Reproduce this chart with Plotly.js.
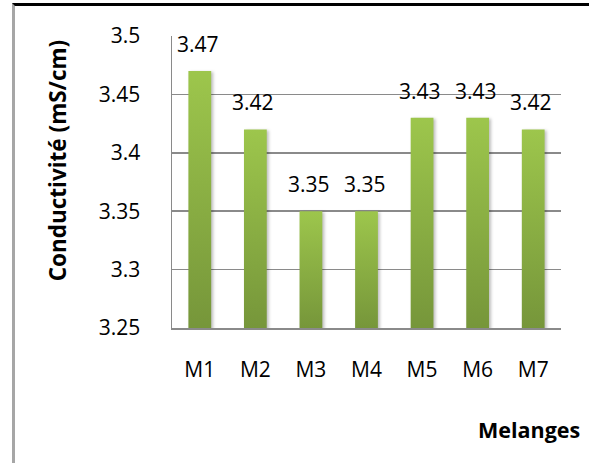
<!DOCTYPE html>
<html>
<head>
<meta charset="utf-8">
<script src="https://cdn.plot.ly/plotly-3.0.1.min.js"></script>
<style>
  html, body { margin: 0; padding: 0; background: #fff; }
  #wrap { position: relative; width: 589px; height: 463px; overflow: hidden; }
  #chart { position: absolute; left: 0; top: 0; width: 589px; height: 463px; }
  #frame { position: absolute; left: 12px; top: 3px; right: 0; bottom: 0;
           border-top: 3px solid #000; border-left: 3px solid #a6a6a6; pointer-events: none; }
</style>
</head>
<body>
<div id="wrap">
  <div id="chart"></div>
  <div id="frame"></div>
</div>
<script>
const categories = ["M1", "M2", "M3", "M4", "M5", "M6", "M7"];
const conductivity = [3.47, 3.42, 3.35, 3.35, 3.43, 3.43, 3.42];
const yTickValues = [3.25, 3.3, 3.35, 3.4, 3.45, 3.5];
const yTickLabels = ["3.25", "3.3", "3.35", "3.4", "3.45", "3.5"];
const yTitle = "Conductivité (mS/cm)";
const xTitle = "Melanges";

const FONT = "Open Sans, sans-serif";

const trace = {
  type: "bar",
  x: categories,
  y: conductivity,
  marker: { color: "#8cb443", line: { width: 0 } },
  hoverinfo: "skip"
};

const labelAnnotations = categories.map((c, i) => ({
  x: c, y: conductivity[i], xref: "x", yref: "y",
  text: conductivity[i].toFixed(2),
  showarrow: false, yanchor: "bottom", xanchor: "center",
  yshift: 11, xshift: -2,
  font: { family: FONT, size: 21, color: "#000" }
}));

const layout = {
  width: 589, height: 463,
  margin: { l: 172, r: 28, t: 36, b: 135, pad: 0 },
  paper_bgcolor: "#fff", plot_bgcolor: "#fff",
  showlegend: false,
  bargap: 0.59,
  font: { family: FONT, size: 21, color: "#000" },
  xaxis: {
    type: "category",
    showline: true, linecolor: "#8a8a8a", linewidth: 1.5,
    ticks: "", showgrid: false,
    ticklabelstandoff: 22,
    tickfont: { family: FONT, size: 21, color: "#000" }
  },
  yaxis: {
    range: [3.25, 3.5],
    tickvals: yTickValues, ticktext: yTickLabels,
    showline: true, linecolor: "#8a8a8a", linewidth: 1.5,
    showgrid: true, gridcolor: "#8a8a8a", gridwidth: 1.5,
    zeroline: false, ticks: "",
    ticklabelstandoff: 26,
    tickfont: { family: FONT, size: 21, color: "#000" }
  },
  annotations: labelAnnotations.concat([
    { text: yTitle, xref: "paper", yref: "paper", x: -0.295, y: 0.575,
      xanchor: "center", yanchor: "middle", textangle: -90, showarrow: false,
      font: { family: FONT, size: 22.5, color: "#000", weight: "bold" } },
    { text: xTitle, xref: "paper", yref: "paper", x: 1.053, y: -0.347,
      xanchor: "right", yanchor: "middle", showarrow: false,
      font: { family: FONT, size: 21.5, color: "#000", weight: "bold" } }
  ])
};

function addGradient(gd) {
  const svg = gd.querySelector("svg.main-svg");
  if (!svg) return;
  const ns = "http://www.w3.org/2000/svg";
  let defs = svg.querySelector("defs");
  if (!defs) { defs = document.createElementNS(ns, "defs"); svg.insertBefore(defs, svg.firstChild); }
  const plotH = gd._fullLayout._size.h;
  gd.querySelectorAll(".barlayer .point path").forEach((p, i) => {
    const bb = p.getBBox();
    const y1 = Math.max(bb.y, 0);
    const y2 = Math.min(bb.y + bb.height, plotH);
    const id = "barGrad" + i;
    let g = svg.querySelector("#" + id);
    if (g) g.remove();
    g = document.createElementNS(ns, "linearGradient");
    g.setAttribute("id", id);
    g.setAttribute("gradientUnits", "userSpaceOnUse");
    g.setAttribute("x1", "0"); g.setAttribute("y1", String(y1));
    g.setAttribute("x2", "0"); g.setAttribute("y2", String(y2));
    [["0", "#9dc64c"], ["1", "#76963a"]].forEach(([o, c]) => {
      const s = document.createElementNS(ns, "stop");
      s.setAttribute("offset", o); s.setAttribute("stop-color", c);
      g.appendChild(s);
    });
    defs.appendChild(g);
    p.style.fill = "url(#" + id + ")";
    p.style.filter = "drop-shadow(2px 1px 1.5px rgba(0,0,0,0.25))";
  });
}

Plotly.newPlot("chart", [trace], layout, { staticPlot: true, displayModeBar: false })
  .then(gd => { addGradient(gd); });
</script>
</body>
</html>
